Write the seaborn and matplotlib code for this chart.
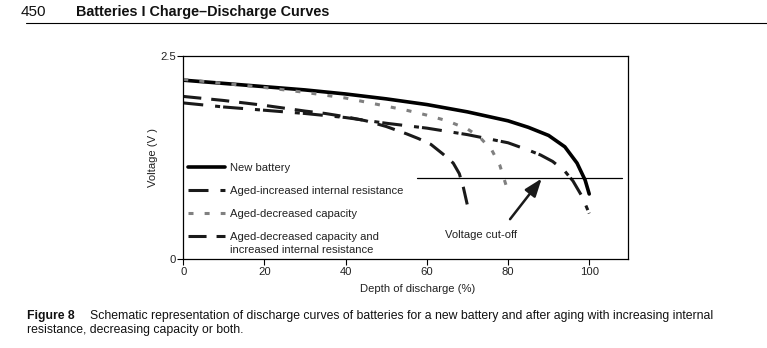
import matplotlib
matplotlib.use("Agg")
import matplotlib.pyplot as plt
import seaborn as sns
import pandas as pd
from matplotlib import font_manager
from matplotlib.lines import Line2D

# ---------------- data ----------------
dod_new = [0, 10, 20, 30, 40, 50, 60, 70, 80, 85, 90, 94, 97, 99, 100]
v_new = [2.20, 2.16, 2.12, 2.08, 2.03, 1.97, 1.90, 1.81, 1.70, 1.62, 1.52, 1.38, 1.18, 0.97, 0.80]

dod_res = [0, 10, 20, 30, 40, 50, 60, 65, 70, 75, 80, 85, 88, 91, 94, 96, 98, 99, 100]
v_res = [1.92, 1.87, 1.83, 1.79, 1.74, 1.67, 1.61, 1.57, 1.53, 1.48, 1.43, 1.34, 1.28, 1.20, 1.08, 0.96, 0.79, 0.68, 0.56]

dod_cap = [0, 10, 20, 30, 40, 50, 55, 60, 65, 70, 73, 76, 78, 80]
v_cap = [2.21, 2.16, 2.11, 2.05, 1.98, 1.88, 1.83, 1.77, 1.70, 1.60, 1.50, 1.34, 1.15, 0.83]

dod_both = [0, 10, 20, 30, 35, 40, 45, 50, 55, 58, 61, 64, 66.5, 68, 69, 70]
v_both = [2.00, 1.95, 1.89, 1.82, 1.79, 1.75, 1.70, 1.63, 1.54, 1.48, 1.41, 1.29, 1.18, 1.05, 0.88, 0.66]

labels = ["New battery",
          "Aged-increased internal resistance",
          "Aged-decreased capacity",
          "Aged-decreased capacity and"]
label_extra = "increased internal resistance"

cutoff_v = 1.0
cutoff_x = [57.5, 108]
xticks = [0, 20, 40, 60, 80, 100]
yticks = [0, 2.5]
ytick_labels = ["0", "2.5"]

# ---------------- style ----------------
sns.set_theme(style="white")
names = {f.name for f in font_manager.fontManager.ttflist}
base = "Liberation Sans"
narrow = "Liberation Sans Narrow" if "Liberation Sans Narrow" in names else base
plt.rcParams["font.family"] = [base, "DejaVu Sans"]
plt.rcParams["lines.scale_dashes"] = False

FS = 8.1
TXT = "#222222"

fig = plt.figure(figsize=(7.67, 3.48), dpi=100)
ax = fig.add_axes([0.239, 0.2557, 0.580, 0.584])

styles = [
    dict(color="black", lw=2.6, ls="-"),
    dict(color="#1a1a1a", lw=2.2, ls=(0, (14.4, 8.6, 3.6, 2.2))),
    dict(color="#808080", lw=2.2, ls=(0, (3.6, 8.0))),
    dict(color="#1a1a1a", lw=2.2, ls=(0, (13.0, 7.2))),
]
series = [(dod_new, v_new), (dod_res, v_res), (dod_cap, v_cap), (dod_both, v_both)]

handles = []
for (x, y), lab, st in zip(series, labels, styles):
    df = pd.DataFrame({"dod": x, "v": y})
    sns.lineplot(data=df, x="dod", y="v", ax=ax, sort=False, estimator=None,
                 color=st["color"], linewidth=st["lw"], linestyle=st["ls"],
                 dash_capstyle="butt")
    handles.append(Line2D([], [], color=st["color"], lw=st["lw"], ls=st["ls"],
                          dash_capstyle="butt"))

ax.plot(cutoff_x, [cutoff_v, cutoff_v], color="black", lw=0.9)

ax.annotate("", xy=(88.3, 0.99), xytext=(80.5, 0.49),
            arrowprops=dict(arrowstyle="-|>,head_length=0.9,head_width=0.33",
                            color="#1a1a1a", lw=1.8, shrinkA=0, shrinkB=0))
ax.text(73.3, 0.30, "Voltage cut-off", ha="center", va="center", fontsize=FS,
        color=TXT)

ax.set_xlim(0, 109.6)
ax.set_ylim(0, 2.5)
ax.set_xticks(xticks)
ax.set_xticklabels([str(t) for t in xticks])
ax.set_yticks(yticks)
ax.set_yticklabels(ytick_labels)
ax.tick_params(axis="both", which="both", direction="out", length=4, width=0.8,
               labelsize=FS, colors="black", labelcolor=TXT, pad=1.5,
               left=True, bottom=True)
for sp in ax.spines.values():
    sp.set_visible(True)
    sp.set_color("black")
    sp.set_linewidth(0.9)

ax.set_xlabel("Depth of discharge (%)", fontsize=FS, color=TXT)
ax.set_ylabel("Voltage (V )", fontsize=FS, color=TXT)
ax.xaxis.set_label_coords(0.527, -0.125)
ax.yaxis.set_label_coords(-0.057, 0.5)

leg = ax.legend(handles, labels, loc="upper left", bbox_to_anchor=(0.01, 0.473),
                frameon=False, fontsize=FS, handlelength=3.3, handletextpad=0.45,
                labelspacing=1.17, borderpad=0, borderaxespad=0)
for t in leg.get_texts():
    t.set_color(TXT)
extra = ax.annotate(label_extra, xy=(0, 0), xycoords=leg.get_texts()[3],
                    xytext=(0, -2.2), textcoords="offset points",
                    ha="left", va="top", fontsize=FS, color=TXT,
                    annotation_clip=False)
extra.set_zorder(10)

# header
fig.text(20.5 / 767, 1 - 12 / 348, "450", fontsize=11, va="center", ha="left",
         color="#111111")
fig.text(76.5 / 767, 1 - 12 / 348, "Batteries I Charge\u2013Discharge Curves",
         fontsize=10.4, fontweight="bold", va="center", ha="left", color="#111111")
fig.add_artist(Line2D([26 / 767, 1.0], [1 - 22.7 / 348, 1 - 22.7 / 348],
                      color="black", lw=0.8, transform=fig.transFigure))

# caption
cap_font = [narrow, "DejaVu Sans"]
fig.text(27 / 767, 1 - 316 / 348, "Figure 8", fontsize=8.8, fontweight="bold",
         va="center", ha="left", color="#111111", family=cap_font)
fig.text(90 / 767, 1 - 316 / 348,
         "Schematic representation of discharge curves of batteries for a new battery and after aging with increasing internal",
         fontsize=8.8, va="center", ha="left", color="#111111", family=cap_font)
fig.text(27 / 767, 1 - 330 / 348, "resistance, decreasing capacity or both.",
         fontsize=8.8, va="center", ha="left", color="#111111", family=cap_font)

fig.canvas.draw()
fig.savefig("out.png", dpi=100, facecolor="white")
